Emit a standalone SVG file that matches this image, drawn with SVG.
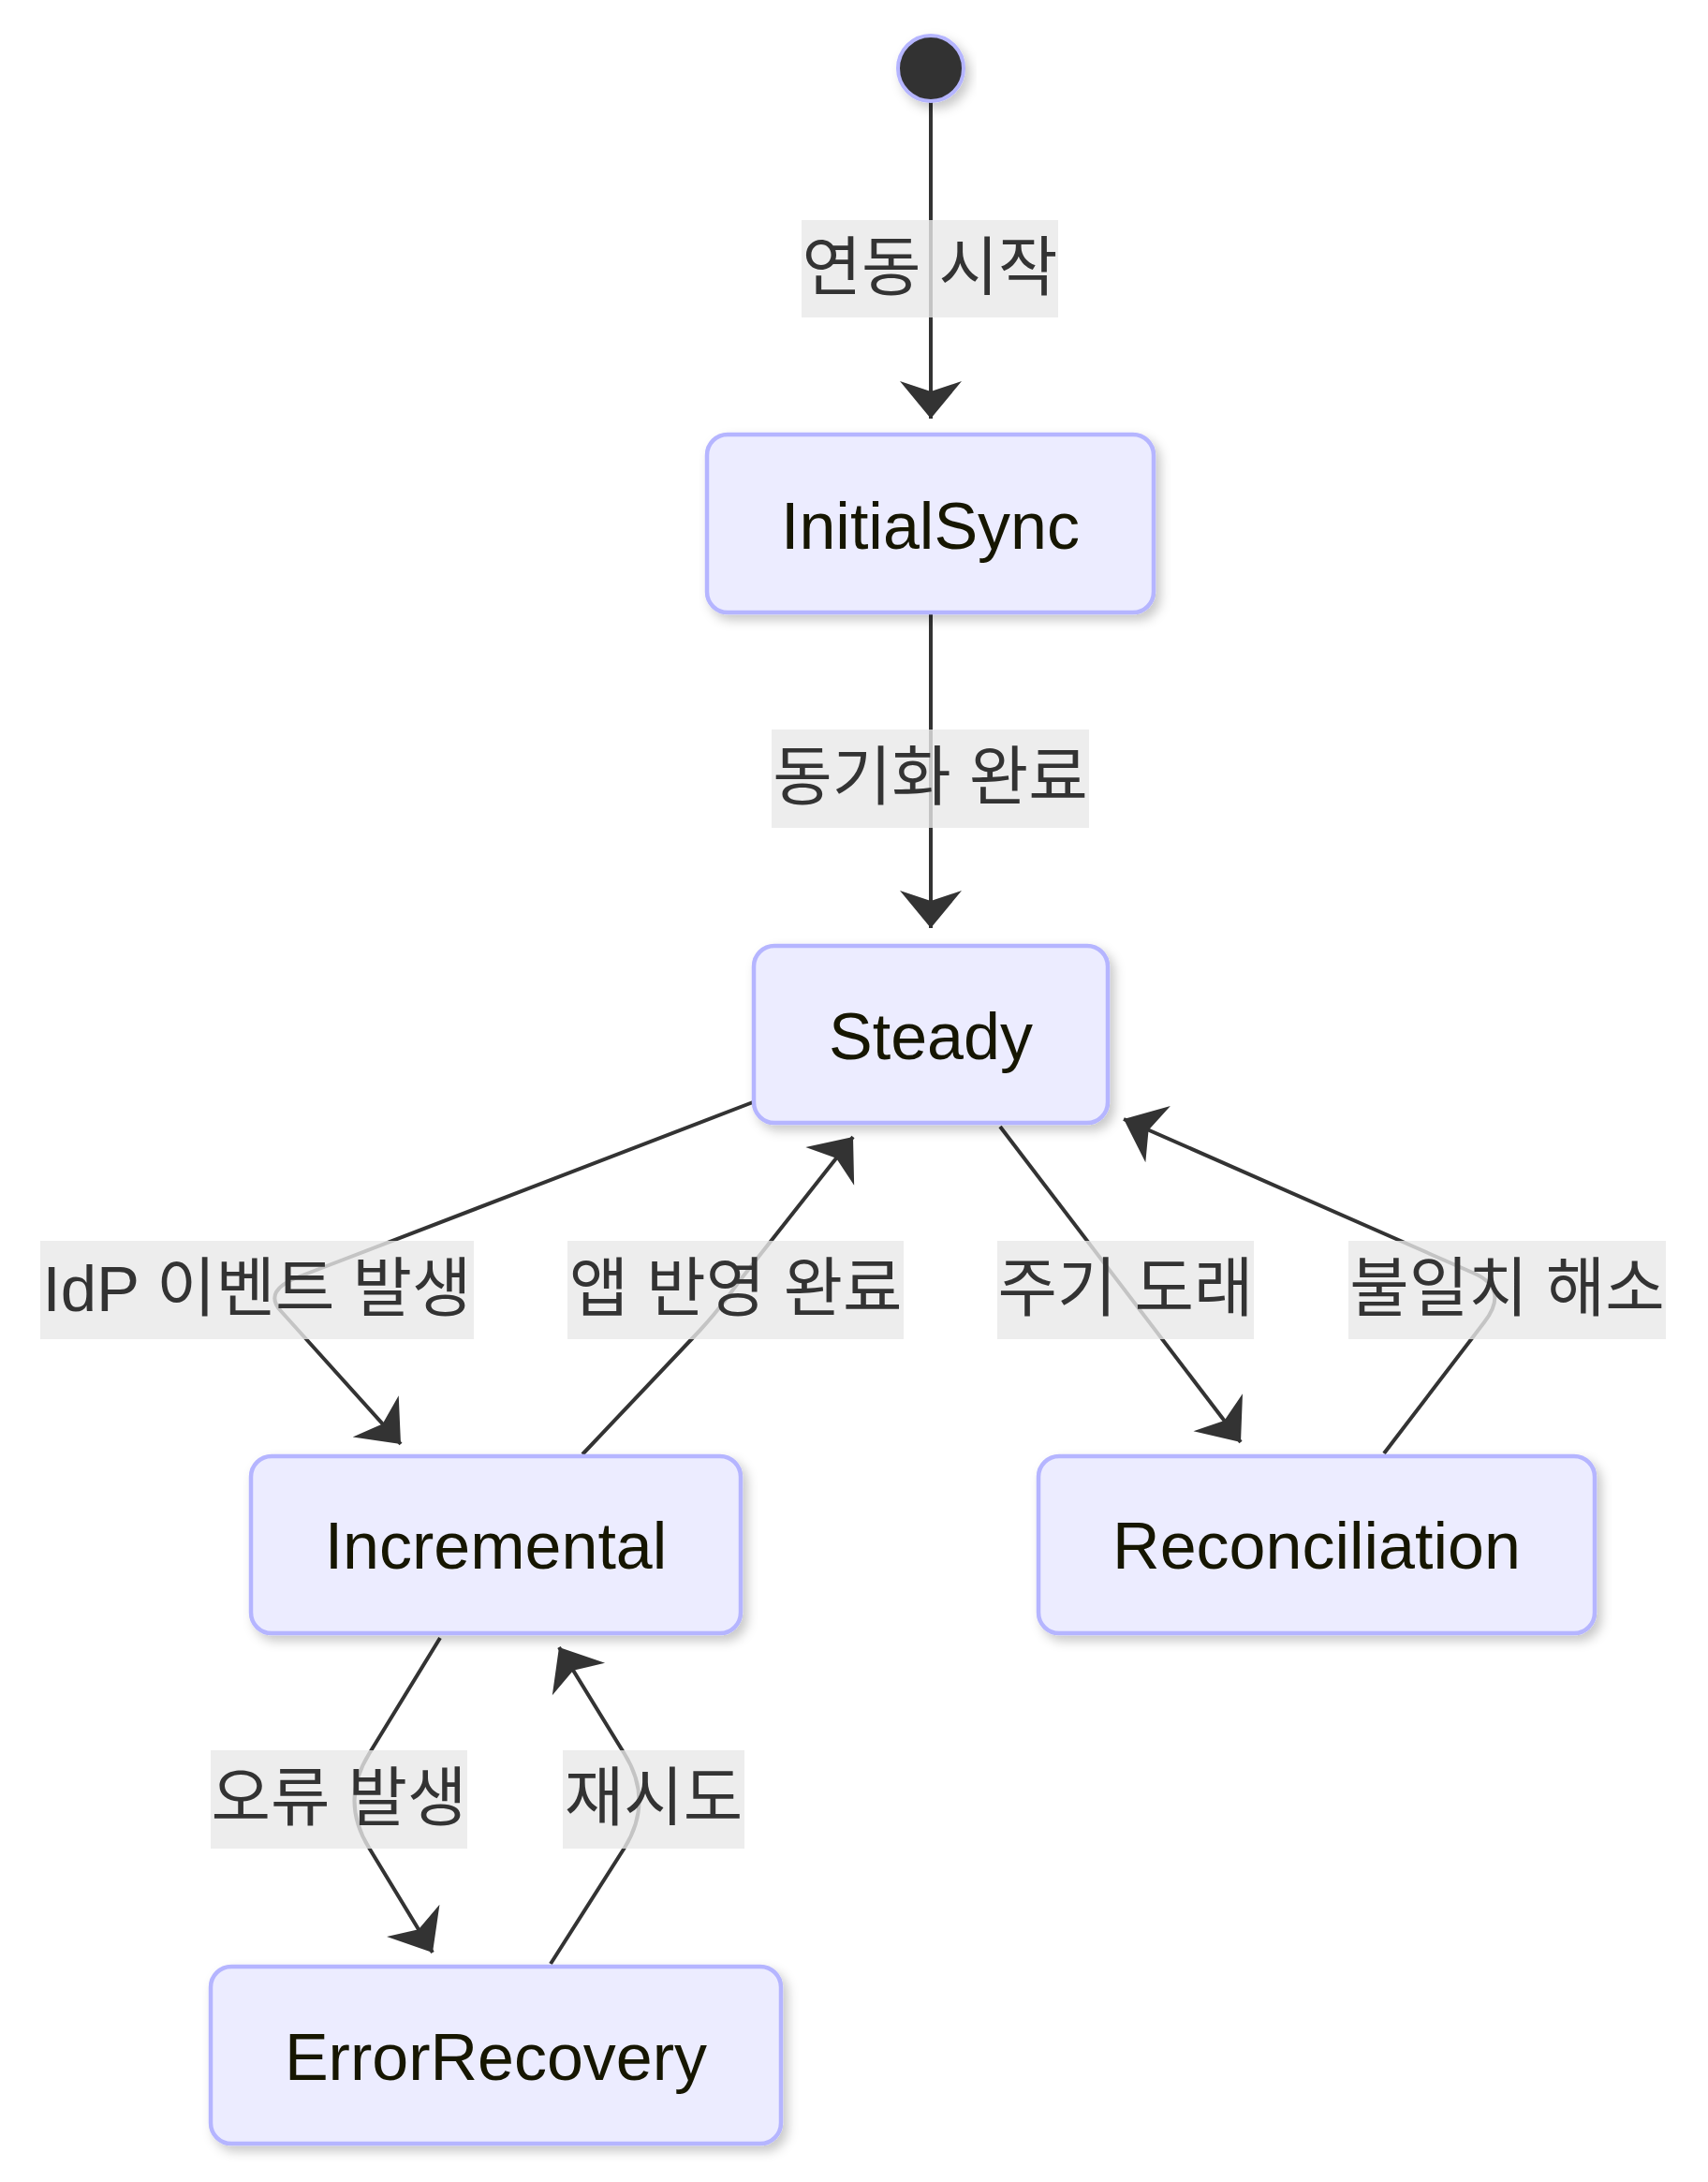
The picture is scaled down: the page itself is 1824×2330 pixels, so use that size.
<svg xmlns="http://www.w3.org/2000/svg" width="1824" height="2330" viewBox="0 0 1824 2330">
<style>
.node rect{fill:#ececff;stroke:#b5b5ff;stroke-width:4.5}
.node text{font-family:"Liberation Sans","Noto Sans CJK KR",sans-serif;font-size:70px;fill:#131300;text-anchor:middle}
.edge{fill:none;stroke:#333;stroke-width:4;marker-end:url(#arrow)}
.lbl rect{fill:#e8e8e8;fill-opacity:0.8}
.lbl text{font-family:"Liberation Sans","Noto Sans CJK KR",sans-serif;font-size:69px;fill:#333;text-anchor:middle}
</style>
<defs>
<filter id="sh" x="-20%" y="-20%" width="140%" height="150%">
<feDropShadow dx="5" dy="6" stdDeviation="6" flood-color="#000" flood-opacity="0.22"/>
</filter>
<marker id="arrow" markerUnits="userSpaceOnUse" viewBox="-42 -35 44 70" refX="0" refY="0" markerWidth="44" markerHeight="70" orient="auto">
<path d="M0,0 L-40,-33 L-29,0 L-40,33 Z" fill="#333"/>
</marker>
</defs>
<rect width="1824" height="2330" fill="#fff"/>
<g id="connectors">
<path class="edge" d="M994,108 L994,447"/>
<path class="edge" d="M994,655 L994,991"/>
<path class="edge" d="M804,1177 L320,1363 Q280,1378 300,1400 L428,1542"/>
<path class="edge" d="M622,1553 L748,1420 Q770,1396 788,1370 L911,1214"/>
<path class="edge" d="M1068,1203 L1325,1540"/>
<path class="edge" d="M1478,1552 L1585,1412 Q1612,1377 1575,1360 L1200,1195"/>
<path class="edge" d="M470,1749 L394,1873 Q363,1923 394,1973 L462,2085"/>
<path class="edge" d="M588,2097 L667,1973 Q698,1923 667,1873 L597,1759"/>
</g>
<g id="edge-labels">
<g class="lbl" id="label-start"><rect x="856" y="235" width="274" height="104"/><text x="993" y="310">연동 시작</text></g>
<g class="lbl" id="label-sync"><rect x="824" y="779" width="339" height="105"/><text x="993.5" y="854">동기화 완료</text></g>
<g class="lbl" id="label-idp"><rect x="43" y="1325" width="463" height="105"/><text x="274.5" y="1400">IdP 이벤트 발생</text></g>
<g class="lbl" id="label-app"><rect x="606" y="1325" width="359" height="105"/><text x="785.5" y="1400">앱 반영 완료</text></g>
<g class="lbl" id="label-period"><rect x="1065" y="1325" width="274" height="105"/><text x="1202" y="1400">주기 도래</text></g>
<g class="lbl" id="label-resolve"><rect x="1440" y="1325" width="339" height="105"/><text x="1609.5" y="1400">불일치 해소</text></g>
<g class="lbl" id="label-error"><rect x="225" y="1869" width="274" height="105"/><text x="362" y="1944">오류 발생</text></g>
<g class="lbl" id="label-retry"><rect x="601" y="1869" width="194" height="105"/><text x="698" y="1944">재시도</text></g>
</g>
<g id="start" filter="url(#sh)"><circle cx="994" cy="73" r="35" fill="#333" stroke="#b5b5ff" stroke-width="4"/></g>
<g id="InitialSync" class="node" filter="url(#sh)"><rect x="755" y="464" width="477" height="190" rx="22"/><text x="993.5" y="586">InitialSync</text></g>
<g id="Steady" class="node" filter="url(#sh)"><rect x="805" y="1010" width="378" height="189" rx="22"/><text x="994" y="1131">Steady</text></g>
<g id="Incremental" class="node" filter="url(#sh)"><rect x="268" y="1555" width="523" height="189" rx="22"/><text x="529.5" y="1675">Incremental</text></g>
<g id="Reconciliation" class="node" filter="url(#sh)"><rect x="1109" y="1555" width="594" height="189" rx="22"/><text x="1406" y="1675">Reconciliation</text></g>
<g id="ErrorRecovery" class="node" filter="url(#sh)"><rect x="225" y="2100" width="609" height="189" rx="22"/><text x="529.5" y="2221">ErrorRecovery</text></g>
</svg>
